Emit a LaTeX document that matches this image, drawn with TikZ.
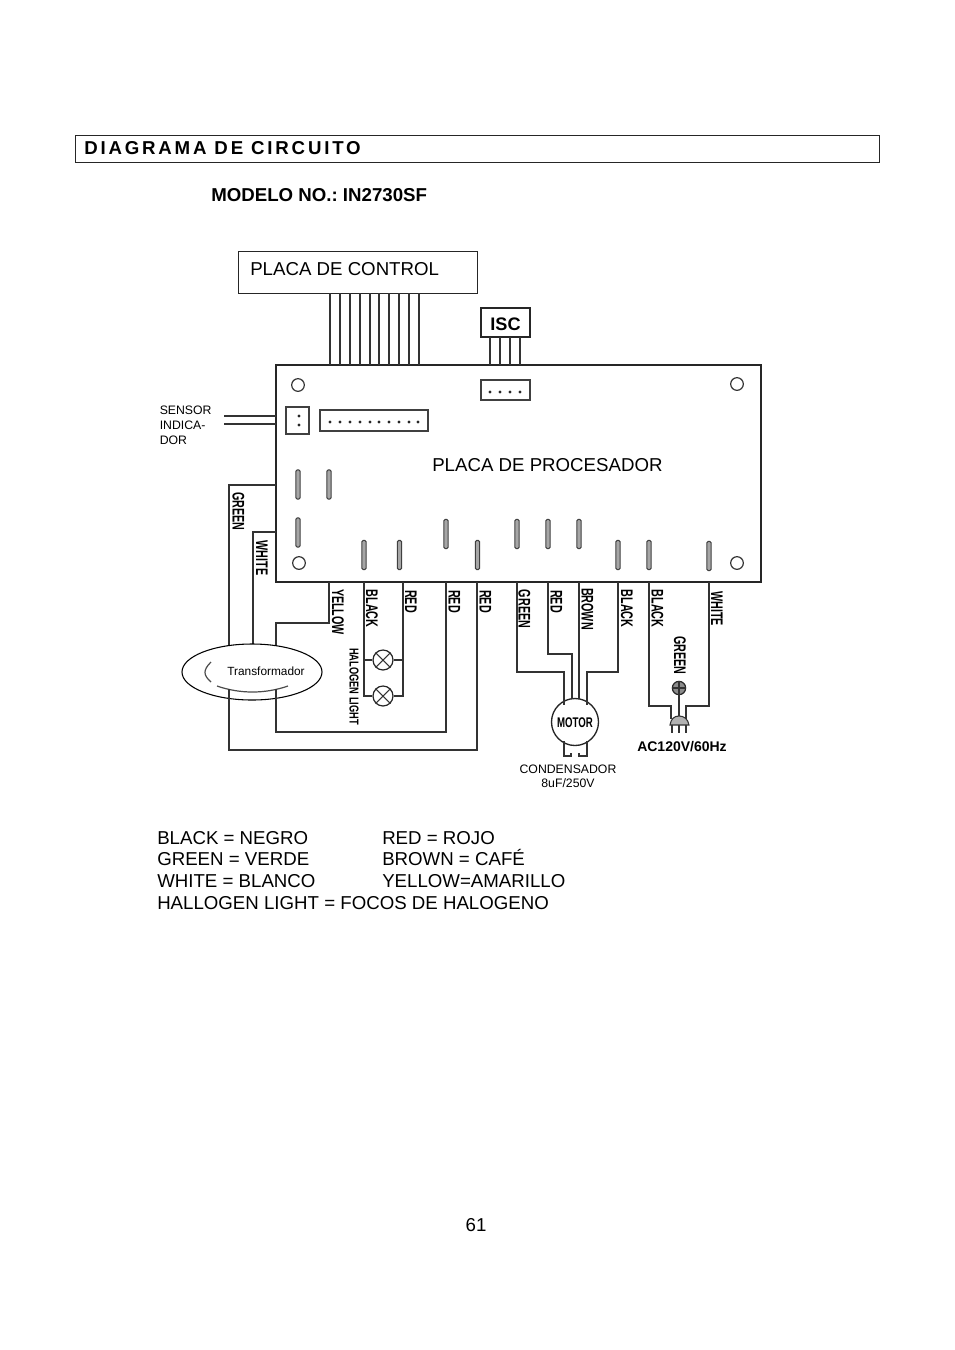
\documentclass[tikz,border=0pt]{standalone}
\usepackage{fontspec}
\setmainfont{Liberation Sans}
\newfontfamily\titlefont[LetterSpace=15]{Liberation Sans}
\usetikzlibrary{shapes.geometric}
\frenchspacing
\begin{document}
\begin{tikzpicture}[
    x = 0.75pt,
    y = -0.75pt,
    wire/.style = {draw = black!80, line width = 0.8pt, line join = miter},
    partbox/.style = {draw = black!85, line width = 0.65pt, inner sep = 0pt, outer sep = 0pt},
    plate/.style = {partbox, line width = 1.2pt},
    socket/.style = {partbox, line width = 1.7pt, draw = black!75},
    bodytext/.style = {anchor = west, inner sep = 0pt, text height = 10pt, text depth = 0pt, font = \fontsize{14}{14}\selectfont},
    smalltext/.style = {inner sep = 0pt, font = \fontsize{9.2}{9.2}\selectfont},
    wirelabel/.style = {rotate = -90, xscale = 0.64, inner sep = 0pt, font = \bfseries\fontsize{12.6}{12.6}\selectfont},
    hole/.style = {circle, draw = black!80, line width = 0.9pt, minimum size = 9.5pt, inner sep = 0pt},
    slot/.style = {draw = black!75, fill = black!35, line width = 0.8pt, rounded corners = 1pt, minimum width = 3.2pt, minimum height = 22pt, inner sep = 0pt},
    pindot/.style = {circle, fill = black!85, minimum size = 2.4pt, inner sep = 0pt},
    lamp/.style = {circle, draw = black!85, line width = 0.9pt, fill = white, minimum size = 15pt, inner sep = 0pt}
]
\useasboundingbox (0,0) rectangle (954,1350);
% heading
\node[partbox, minimum width = 603pt, minimum height = 20.25pt] (titlebox) at (477,148.5) {};
\node[bodytext, font = \titlefont\bfseries\fontsize{14}{14}\selectfont] (title) at (84,148) {DIAGRAMA DE CIRCUITO};
\node[bodytext, font = \bfseries\fontsize{14}{14}\selectfont] (model) at (211,194.5) {MODELO NO.: IN2730SF};
% boards
\node[partbox, minimum width = 179.25pt, minimum height = 31.5pt] (control) at (357.5,272) {};
\node[bodytext] (controltext) at (250,268.5) {PLACA DE CONTROL};
\node[plate, minimum width = 363.75pt, minimum height = 162.75pt] (board) at (518.5,473.5) {};
\node[bodytext] (boardtext) at (432,464.5) {PLACA DE PROCESADOR};
\node[partbox, line width = 1.1pt, minimum width = 36.75pt, minimum height = 21.75pt] (isc) at (505.5,322.5) {};
\node[inner sep = 0pt, font = \bfseries\fontsize{13.6}{13.6}\selectfont] (isctext) at (505.5,324.5) {ISC};
\node[hole] (hole1) at (298,385) {};
\node[hole] (hole2) at (737,384) {};
\node[hole] (hole3) at (299,563) {};
\node[hole] (hole4) at (737,563) {};
% sockets
\node[socket, minimum width = 17.25pt, minimum height = 20.25pt] (sensorsocket) at (297.5,420.5) {};
\node[socket, minimum width = 81pt, minimum height = 15.75pt] (panelsocket) at (374,420.5) {};
\node[socket, minimum width = 36.75pt, minimum height = 15pt] (iscsocket) at (505.5,390) {};
\node[pindot] (sensordot1) at (299,416) {};
\node[pindot] (sensordot2) at (299,425) {};
\foreach \n/\x in {1/330,2/340,3/350,4/360,5/370,6/379,7/389,8/399,9/409,10/418}
    \node[pindot] (paneldot\n) at (\x,422) {};
\foreach \n/\x in {1/490,2/500,3/510,4/520}
    \node[pindot] (iscdot\n) at (\x,392) {};
\foreach \n/\x/\y in {1/298/484.5,2/329/484.5,3/298/532.5,4/364/555,5/399.5/555,6/446/534,7/477.5/555,8/517/534,9/548/534,10/579/534,11/618/555,12/649/555,13/709/556}
    \node[slot] (slot\n) at (\x,\y) {};
% wires to the upper boxes
\foreach \x in {330,340,350,360,370,379,389,399,409,419} {
    \coordinate (ctop) at (\x,293);
    \coordinate (cbot) at (\x,365);
    \draw[wire] (ctop) -- (cbot);
}
\foreach \x in {490,500,510,520} {
    \coordinate (itop) at (\x,337);
    \coordinate (ibot) at (\x,365);
    \draw[wire] (itop) -- (ibot);
}
\coordinate (sensorend1) at (224,416);
\coordinate (sensorend2) at (224,424);
\coordinate (sensorin1) at (276,416);
\coordinate (sensorin2) at (276,424);
\draw[wire] (sensorend1) -- (sensorin1);
\draw[wire] (sensorend2) -- (sensorin2);
\node[smalltext, anchor = west] (sensor1) at (159.5,410.5) {SENSOR};
\node[smalltext, anchor = west] (sensor2) at (159.5,425.5) {INDICA-};
\node[smalltext, anchor = west] (sensor3) at (159.5,440.5) {DOR};
% transformer
\coordinate (greenout) at (276,485);
\coordinate (whiteout) at (276,532);
\coordinate (greenbend) at (229,485);
\coordinate (whitebend) at (253,532);
\coordinate (greentop) at (229,655);
\coordinate (whitetop) at (253,655);
\coordinate (yellowout) at (329,582);
\coordinate (yellowbend) at (329,623);
\coordinate (yellowleft) at (276,623);
\coordinate (yellowtop) at (276,655);
\draw[wire] (greenout) -- (greenbend) -- (greentop);
\draw[wire] (whiteout) -- (whitebend) -- (whitetop);
\draw[wire] (yellowout) -- (yellowbend) -- (yellowleft) -- (yellowtop);
\node[ellipse, draw = black, line width = 0.8pt, fill = white, minimum width = 105pt, minimum height = 42pt, inner sep = 0pt] (trafo) at (252,672) {};
\node[inner sep = 0pt, font = \fontsize{8.9}{8.9}\selectfont] (trafotext) at (266,671) {Transformador};
\coordinate (coilA) at (211,662);
\coordinate (coilB) at (211,682);
\coordinate (coilC) at (217,686);
\coordinate (coilD) at (288,686);
\draw[black!70, line width = 0.9pt] (coilA) .. controls (203,670) and (203,675) .. (coilB);
\draw[black!70, line width = 0.9pt] (coilC) .. controls (240,694) and (265,694) .. (coilD);
\coordinate (trafoA) at (229,689);
\coordinate (trafoB) at (276,689);
\coordinate (loopA) at (229,750);
\coordinate (loopB) at (276,732);
\coordinate (redA) at (477,750);
\coordinate (redB) at (446,732);
\coordinate (redAout) at (477,582);
\coordinate (redBout) at (446,582);
\draw[wire] (trafoA) -- (loopA) -- (redA) -- (redAout);
\draw[wire] (trafoB) -- (loopB) -- (redB) -- (redBout);
% halogen lights
\node[lamp] (lamp1) at (383,660) {};
\node[lamp] (lamp2) at (383,696) {};
\draw[wire] (lamp1.north west) -- (lamp1.south east);
\draw[wire] (lamp1.north east) -- (lamp1.south west);
\draw[wire] (lamp2.north west) -- (lamp2.south east);
\draw[wire] (lamp2.north east) -- (lamp2.south west);
\coordinate (blackout) at (364,582);
\coordinate (blackA) at (364,660);
\coordinate (blackB) at (364,696);
\coordinate (redout) at (403,582);
\coordinate (redC) at (403,660);
\coordinate (redD) at (403,696);
\draw[wire] (blackout) -- (blackB) -- (lamp2);
\draw[wire] (blackA) -- (lamp1);
\draw[wire] (redout) -- (redD) -- (lamp2);
\draw[wire] (redC) -- (lamp1);
% motor
\node[circle, draw = black!85, line width = 1pt, minimum size = 35.25pt, inner sep = 0pt] (motor) at (575,722) {};
\node[inner sep = 0pt, xscale = 0.69, font = \bfseries\fontsize{10.5}{10.5}\selectfont] (motortext) at (575,723) {MOTOR};
\coordinate (mgreenout) at (517,582);
\coordinate (mgreenbend) at (517,672);
\coordinate (mgreenleft) at (564,672);
\coordinate (mgreenin) at (564,705);
\coordinate (mredout) at (548,582);
\coordinate (mredbend) at (548,654);
\coordinate (mredleft) at (572,654);
\coordinate (mredin) at (572,699);
\coordinate (mbrownout) at (579,582);
\coordinate (mbrownin) at (579,699);
\coordinate (mblackout) at (618,582);
\coordinate (mblackbend) at (618,672);
\coordinate (mblackleft) at (587,672);
\coordinate (mblackin) at (587,705);
\draw[wire] (mgreenout) -- (mgreenbend) -- (mgreenleft) -- (mgreenin);
\draw[wire] (mredout) -- (mredbend) -- (mredleft) -- (mredin);
\draw[wire] (mbrownout) -- (mbrownin);
\draw[wire] (mblackout) -- (mblackbend) -- (mblackleft) -- (mblackin);
\coordinate (capA) at (564,741);
\coordinate (capB) at (564,756);
\coordinate (capC) at (571,756);
\coordinate (capD) at (571,753);
\coordinate (capE) at (579,753);
\coordinate (capF) at (579,756);
\coordinate (capG) at (587,756);
\coordinate (capH) at (587,741);
\draw[wire] (capA) -- (capB) -- (capC) -- (capD);
\draw[wire] (capE) -- (capF) -- (capG) -- (capH);
\node[smalltext] (cond1) at (568,769) {CONDENSADOR};
\node[smalltext] (cond2) at (568,783) {8uF/250V};
% plug
\node[circle, draw = black!85, fill = black!45, line width = 0.9pt, minimum size = 10pt, inner sep = 0pt] (ground) at (679,688) {};
\coordinate (groundA) at (679,681);
\coordinate (groundB) at (679,695);
\coordinate (groundC) at (672,688);
\coordinate (groundD) at (686,688);
\draw[wire] (groundA) -- (groundB);
\draw[wire] (groundC) -- (groundD);
\coordinate (plugL) at (670,725);
\coordinate (plugR) at (689,725);
\coordinate (plugtop) at (679,716);
\draw[wire, fill = black!30] (plugL) .. controls (671,719) and (674,716) .. (plugtop) .. controls (684,716) and (688,719) .. (plugR) -- cycle;
\draw[wire] (groundB) -- (plugtop);
\coordinate (pblackout) at (649,582);
\coordinate (pblackbend) at (649,706);
\coordinate (pblackleft) at (671,706);
\coordinate (pblackin) at (671,719);
\coordinate (pwhiteout) at (709,582);
\coordinate (pwhitebend) at (709,706);
\coordinate (pwhiteleft) at (686,706);
\coordinate (pwhitein) at (686,719);
\draw[wire] (pblackout) -- (pblackbend) -- (pblackleft) -- (pblackin);
\draw[wire] (pwhiteout) -- (pwhitebend) -- (pwhiteleft) -- (pwhitein);
\foreach \x in {672,679,686} {
    \coordinate (ptop) at (\x,725);
    \coordinate (pbot) at (\x,733);
    \draw[wire] (ptop) -- (pbot);
}
\node[inner sep = 0pt, font = \bfseries\fontsize{10.5}{10.5}\selectfont] (supply) at (682,747) {AC120V/60Hz};
% wire labels
\node[wirelabel] (lgreen1) at (238.5,511.5) {GREEN};
\node[wirelabel] (lwhite1) at (262,558) {WHITE};
\node[wirelabel] (lyellow) at (338,612) {YELLOW};
\node[wirelabel] (lblack1) at (372,608.5) {BLACK};
\node[wirelabel] (lred1) at (411,601.5) {RED};
\node[wirelabel] (lred2) at (454.5,601.5) {RED};
\node[wirelabel] (lred3) at (485.5,601.5) {RED};
\node[wirelabel] (lgreen2) at (524.5,609) {GREEN};
\node[wirelabel] (lred4) at (556.5,601.5) {RED};
\node[wirelabel] (lbrown) at (587.5,609) {BROWN};
\node[wirelabel] (lblack2) at (627,608.5) {BLACK};
\node[wirelabel] (lblack3) at (657.5,608.5) {BLACK};
\node[wirelabel] (lwhite2) at (717,608.5) {WHITE};
\node[wirelabel] (lgreen3) at (680,655.5) {GREEN};
\node[wirelabel, xscale = 1.12, font = \bfseries\fontsize{9.7}{9.7}\selectfont] (lhalogen) at (354,686.5) {HALOGEN LIGHT};
% legend
\node[bodytext] (leg1) at (157,838) {BLACK = NEGRO};
\node[bodytext] (leg2) at (382,838) {RED = ROJO};
\node[bodytext] (leg3) at (157,859) {GREEN = VERDE};
\node[bodytext] (leg4) at (382,859) {BROWN = CAFÉ};
\node[bodytext] (leg5) at (157,881) {WHITE = BLANCO};
\node[bodytext] (leg6) at (382,881) {YELLOW=AMARILLO};
\node[bodytext] (leg7) at (157,903) {HALLOGEN LIGHT = FOCOS DE HALOGENO};
\node[bodytext, anchor = center] (pagenum) at (476,1225) {61};
\end{tikzpicture}
\end{document}
